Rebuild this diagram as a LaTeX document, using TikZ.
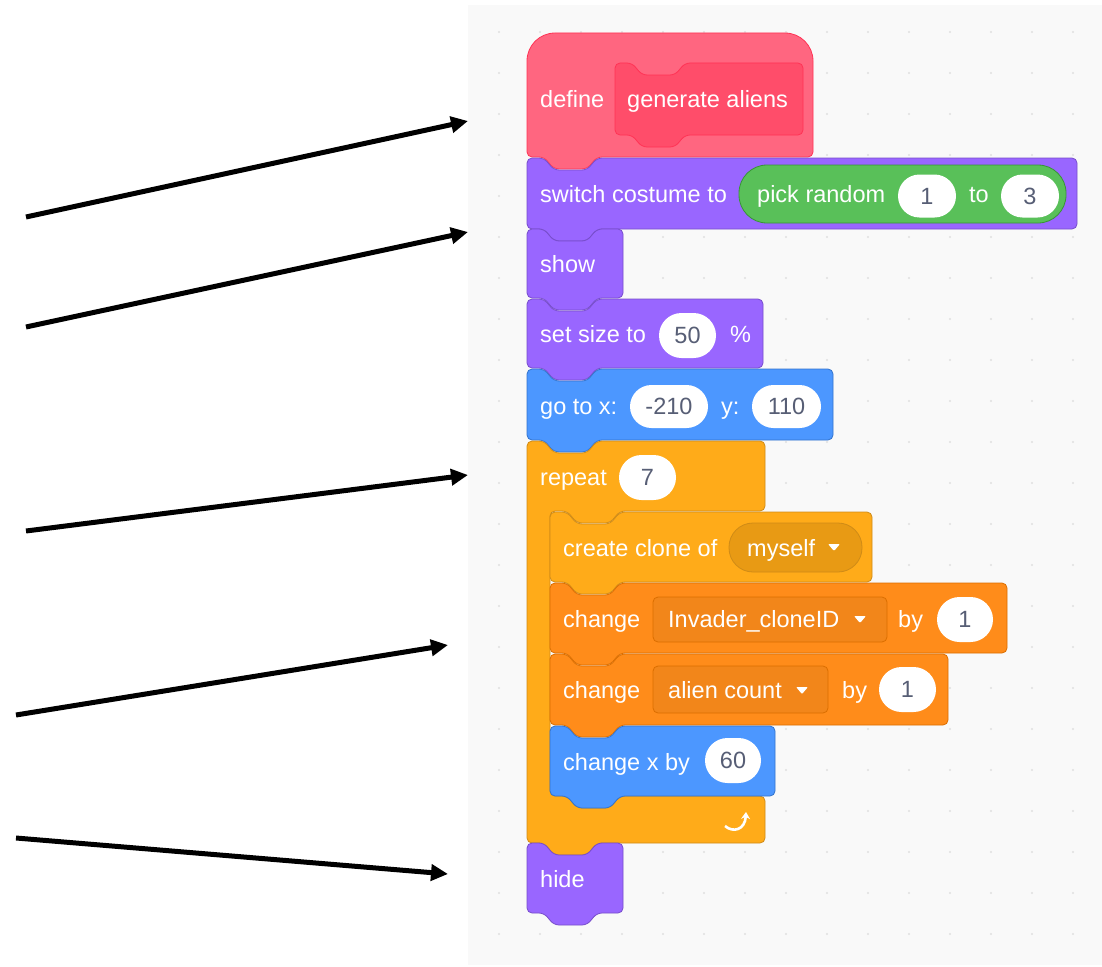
\documentclass[tikz,border=0pt]{standalone}
\usepackage{fontspec}
\setmainfont{Liberation Sans}
\usetikzlibrary{arrows.meta,shapes.misc}
\definecolor{lookfill}{HTML}{9966FF}\definecolor{lookline}{HTML}{774DCB}
\definecolor{motfill}{HTML}{4C97FF}\definecolor{motline}{HTML}{3373CC}
\definecolor{ctlfill}{HTML}{FFAB19}\definecolor{ctlline}{HTML}{CF8B17}
\definecolor{varfill}{HTML}{FF8C1A}\definecolor{varline}{HTML}{DB6E00}
\definecolor{opfill}{HTML}{59C059}\definecolor{opline}{HTML}{389438}
\definecolor{myfill}{HTML}{FF6680}\definecolor{myline}{HTML}{FF3355}
\definecolor{myinner}{HTML}{FF4D6A}
\definecolor{valtext}{HTML}{575E75}
\definecolor{panelbg}{HTML}{F9F9F9}
\definecolor{dotc}{HTML}{E0E0E0}
\definecolor{ctldrop}{HTML}{E89A14}
\definecolor{vardrop}{HTML}{F2861A}
\newcommand\sblock[6]{%
  \path[fill=#5,draw=#6,line width=0.8pt,rounded corners=5pt]
  (#1,#2/2+#4/2) -- (#1,#2) -- (#1+17,#2) -- (#1+27,#2+12) -- (#1+60,#2+12) -- (#1+70,#2)
  -- (#3,#2) -- (#3,#4) -- (#1+70,#4) -- (#1+60,#4+12) -- (#1+27,#4+12) -- (#1+17,#4)
  -- (#1,#4) -- cycle;}
\newcommand\dropmark[2]{%
  \path[fill=white,rounded corners=1pt] (#1-6,#2-3) -- (#1+6,#2-3) -- (#1,#2+4) -- cycle;}
\tikzset{
  lbl/.style={text=white,anchor=base west,inner sep=0pt,font=\fontsize{23.5}{28}\selectfont},
  numin/.style={rounded rectangle,fill=white,inner sep=0pt,
    text=valtext,font=\fontsize{23.5}{28}\selectfont,minimum height=43pt},
  ptr/.style={line width=5pt,-{Triangle[length=17pt,width=16pt]}}
}
\begin{document}
\begin{tikzpicture}[x=1pt,y=-1pt]
\useasboundingbox (0,0) rectangle (1102,966);
\fill[white] (0,0) rectangle (1102,966);
% panel
\fill[panelbg] (468,5) rectangle (1102,965);
\foreach \x in {499,540,...,1100}{\foreach \y in {32,73,...,960}{\fill[dotc] (\x,\y) circle (1.2);}}
% define hat
\path[fill=myfill,draw=myline,line width=0.8pt] (527,100) [rounded corners=28pt] -- (527,33) -- (813,33) -- (813,100)
  [rounded corners=5pt] -- (813,157) -- (597,157) -- (587,169) -- (554,169) -- (544,157) -- (527,157) -- cycle;
\sblock{615}{63}{803}{135}{myinner}{myline}
\node[lbl] (tdefine) at (540,107.5) {define};
\node[lbl] (tgen) at (627,107.5) {generate aliens};
% switch costume
\sblock{527}{158}{1077}{229}{lookfill}{lookline}
\node[lbl] (tswitch) at (540,202.5) {switch costume to};
\path[fill=opfill,draw=opline,line width=0.8pt,rounded corners=28pt] (739,165) rectangle (1066,223);
\node[lbl] (tpick) at (757,202.5) {pick random};
\node[numin,minimum width=58pt] (vone) at (927,196) {1};
\node[lbl] (tto) at (969,202.5) {to};
\node[numin,minimum width=58pt] (vthree) at (1030,196) {3};
% show
\sblock{527}{229}{623}{298}{lookfill}{lookline}
\node[lbl] (tshow) at (540,272.5) {show};
% set size
\sblock{527}{299}{763}{368}{lookfill}{lookline}
\node[lbl] (tsize) at (540,342.5) {set size to};
\node[numin,minimum width=57pt,minimum height=45pt] (vfifty) at (687.5,335.5) {50};
\node[lbl] (tpct) at (730,342.5) {\%};
% go to
\sblock{527}{369}{833}{440}{motfill}{motline}
\node[lbl] (tgoto) at (540,414) {go to x:};
\node[numin,minimum width=78pt] (vx) at (669,406.5) {-210};
\node[lbl] (ty) at (721,414) {y:};
\node[numin,minimum width=69pt] (vy) at (786.5,406.5) {110};
% repeat C block
\path[fill=ctlfill,draw=ctlline,line width=0.8pt,rounded corners=5pt]
 (527,600) -- (527,441) -- (544,441) -- (554,453) -- (587,453) -- (597,441) -- (765,441) -- (765,511)
 -- (620,511) -- (610,523) -- (577,523) -- (567,511) -- (550,511) -- (550,796) -- (567,796) -- (577,808)
 -- (610,808) -- (620,796) -- (765,796) -- (765,843) -- (597,843) -- (587,855) -- (554,855) -- (544,843)
 -- (527,843) -- cycle;
\node[lbl] (trepeat) at (540,485) {repeat};
\node[numin,minimum width=57pt,minimum height=45pt] (vseven) at (647.5,477.5) {7};
\draw[white,line width=2.6pt,-{Stealth[length=7pt,width=9pt]}] (725,826) .. controls (733,833) and (745,830) .. (746,812);
% create clone
\sblock{550}{512}{872}{582}{ctlfill}{ctlline}
\node[lbl] (tclone) at (563,556) {create clone of};
\path[fill=ctldrop,draw=ctlline,line width=0.8pt,rounded corners=24pt] (729,523) rectangle (862,572);
\node[lbl] (tmyself) at (747,556) {myself};
\dropmark{834}{547}
% change Invader_cloneID
\sblock{550}{583}{1007}{653}{varfill}{varline}
\node[lbl] (tchg1) at (563,627) {change};
\path[fill=vardrop,draw=varline,line width=0.8pt,rounded corners=5pt] (653,597) rectangle (887,642);
\node[lbl] (tinv) at (668,627) {Invader\_cloneID};
\dropmark{860}{619}
\node[lbl] (tby1) at (898,627) {by};
\node[numin,minimum width=56pt,minimum height=45pt] (vinc1) at (965,619.5) {1};
% change alien count
\sblock{550}{654}{948}{725}{varfill}{varline}
\node[lbl] (tchg2) at (563,698.5) {change};
\path[fill=vardrop,draw=varline,line width=0.8pt,rounded corners=5pt] (653,666) rectangle (828,713);
\node[lbl] (talien) at (668,698.5) {alien count};
\dropmark{802}{690}
\node[lbl] (tby2) at (842,698.5) {by};
\node[numin,minimum width=57pt,minimum height=45pt] (vinc2) at (907.5,689.5) {1};
% change x by
\sblock{550}{726}{775}{796}{motfill}{motline}
\node[lbl] (tchgx) at (563,770) {change x by};
\node[numin,minimum width=56pt,minimum height=45pt] (vsixty) at (733,760.5) {60};
% hide
\sblock{527}{843}{623}{913}{lookfill}{lookline}
\node[lbl] (thide) at (540,887) {hide};
% pointer arrows
\coordinate (s1) at (26,217); \coordinate (e1) at (468,121);
\coordinate (s2) at (26,327); \coordinate (e2) at (468,232);
\coordinate (s3) at (26,531); \coordinate (e3) at (468,475);
\coordinate (s4) at (16,715); \coordinate (e4) at (448,645);
\coordinate (s5) at (16,838); \coordinate (e5) at (448,874);
\draw[ptr] (s1) -- (e1);
\draw[ptr] (s2) -- (e2);
\draw[ptr] (s3) -- (e3);
\draw[ptr] (s4) -- (e4);
\draw[ptr] (s5) -- (e5);
\end{tikzpicture}
\end{document}
